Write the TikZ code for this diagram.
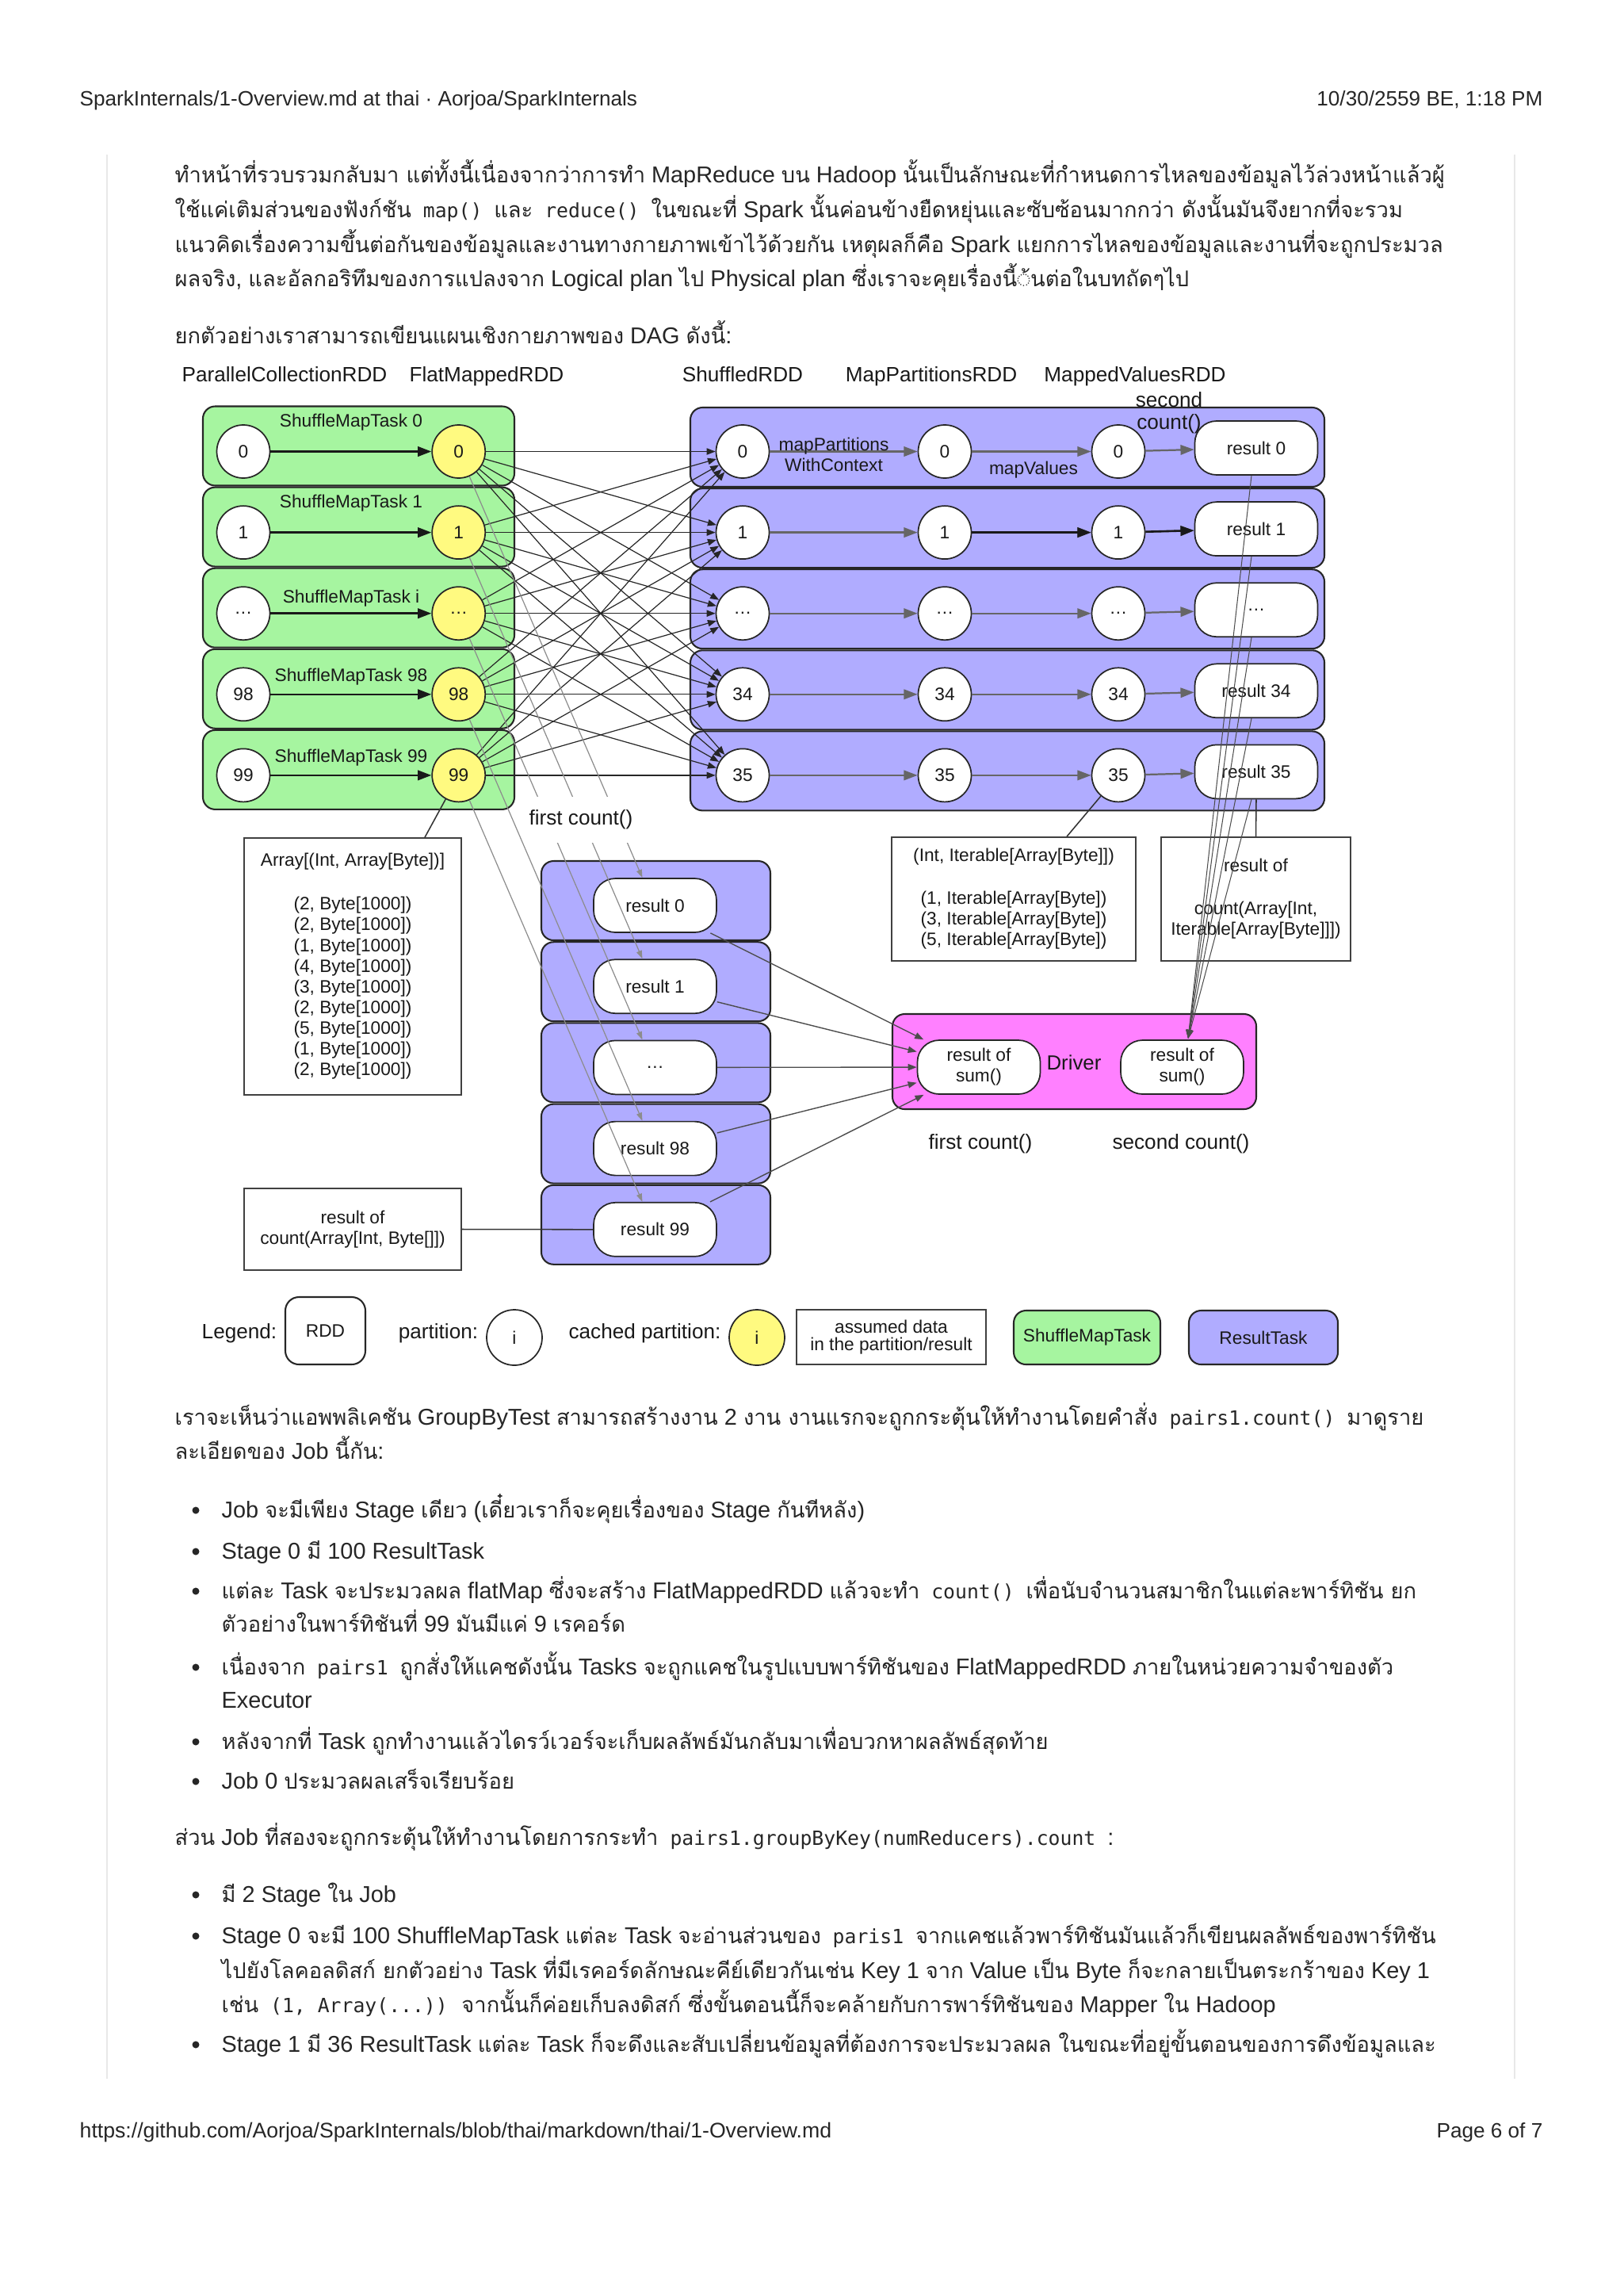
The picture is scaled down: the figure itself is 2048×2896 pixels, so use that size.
\documentclass[tikz,border=0pt]{standalone}
\usepackage{fontspec}
\setmainfont{Liberation Sans}
\setmonofont{DejaVu Sans Mono}
\newfontfamily\thaifont[Script=Thai, Scale=0.945]{Loma}
\usetikzlibrary{positioning, arrows.meta, calc}

\definecolor{smtgreen}{RGB}{166,245,160}
\definecolor{rtblue}{RGB}{176,172,255}
\definecolor{drvpink}{RGB}{255,128,255}
\definecolor{cacheyellow}{RGB}{255,250,128}
\definecolor{pagerule}{RGB}{232,232,232}

\newcommand{\upx}{0.29067pt}
\newcommand{\dgfont}{\fontsize{6.6}{7.6}\selectfont}
\newcommand{\lblfont}{\fontsize{7.6}{8.2}\selectfont}
\newcommand{\bodyfont}{\fontsize{8.4}{10}\selectfont}
\newcommand{\hdfont}{\fontsize{7.6}{9}\selectfont}
\newcommand{\thai}[1]{{\thaifont #1}}
\newcommand{\code}[1]{\hspace{2pt}{\ttfamily\fontsize{7.2}{9}\selectfont #1}\hspace{2pt}}

\begin{document}
\begin{tikzpicture}[x=\upx, y=-\upx,
  every node/.style={font=\dgfont, text=black!90},
  part/.style={draw=black!85, line width=0.5pt, circle, fill=white, minimum size=67*\upx, inner sep=0pt},
  cached/.style={part, fill=cacheyellow},
  result/.style={draw=black!85, line width=0.5pt, fill=white, rounded corners=8pt, minimum width=155*\upx, minimum height=68*\upx, align=center, inner sep=1pt},
  smtbox/.style={draw=black!85, line width=0.6pt, fill=smtgreen, rounded corners=4.5pt, minimum width=393*\upx, minimum height=100*\upx},
  rtbox/.style={draw=black!85, line width=0.6pt, fill=rtblue, rounded corners=4.5pt, minimum height=100*\upx},
  drvbox/.style={draw=black!85, line width=0.6pt, fill=drvpink, rounded corners=4.5pt, minimum width=459*\upx, minimum height=120*\upx},
  databox/.style={draw=black!75, line width=0.5pt, fill=white, align=center, inner sep=0pt},
  lbl/.style={font=\lblfont, align=center},
  coltitle/.style={font=\lblfont, anchor=base},
  body/.style={font=\bodyfont, anchor=base west, inner sep=0pt, text=black!85},
  hdr/.style={font=\hdfont, inner sep=0pt, text=black!85},
  bullet/.style={circle, fill=black!85, inner sep=0pt, minimum size=9*\upx},
  arrow/.style={-{Triangle[length=5pt,width=3.6pt]}, line width=0.75pt, black!90},
  grayarrow/.style={-{Triangle[length=5pt,width=3.6pt]}, line width=0.65pt, black!60},
  shuffle/.style={-{Triangle[length=3.2pt,width=2.4pt]}, line width=0.35pt, black!85},
  firstcnt/.style={-{Triangle[length=3pt,width=2pt]}, line width=0.35pt, black!45},
  sumarrow/.style={-{Triangle[length=3.2pt,width=2.4pt]}, line width=0.4pt, black!70},
  plain/.style={line width=0.45pt, black!80},
]
  \useasboundingbox (0,0) rectangle (2048,2896);
  \fill[white] (0,0) rectangle (2048,2896);

  % page frame
  \node[hdr, anchor=base west] (hdleft) at (100,133) {SparkInternals/1-Overview.md at thai · Aorjoa/SparkInternals};
  \node[hdr, anchor=base east] (hdright) at (1947,133) {10/30/2559 BE, 1:18 PM};
  \node[hdr, anchor=base west, font=\fontsize{7.75}{9}\selectfont] (ftleft) at (100,2696) {https://github.com/Aorjoa/SparkInternals/blob/thai/markdown/thai/1-Overview.md};
  \node[hdr, anchor=base east] (ftright) at (1947,2696) {Page 6 of 7};
  \draw[pagerule, line width=0.6pt] (135,195) -- (135,2622);
  \draw[pagerule, line width=0.6pt] (1911,195) -- (1911,2622);

  % text above the picture
  \node[body] (p1a) at (220,230) {\thai{ทำหน้าที่รวบรวมกลับมา แต่ทั้งนี้เนื่องจากว่าการทำ} MapReduce \thai{บน} Hadoop \thai{นั้นเป็นลักษณะที่กำหนดการไหลของข้อมูลไว้ล่วงหน้าแล้วผู้}};
  \node[body] (p1b) at (220,274) {\thai{ใช้แค่เติมส่วนของฟังก์ชัน} \code{map()} \thai{และ} \code{reduce()} \thai{ในขณะที่} Spark \thai{นั้นค่อนข้างยืดหยุ่นและซับซ้อนมากกว่า ดังนั้นมันจึงยากที่จะรวม}};
  \node[body] (p1c) at (220,318) {\thai{แนวคิดเรื่องความขึ้นต่อกันของข้อมูลและงานทางกายภาพเข้าไว้ด้วยกัน เหตุผลก็คือ} Spark \thai{แยกการไหลของข้อมูลและงานที่จะถูกประมวล}};
  \node[body] (p1d) at (220,361) {\thai{ผลจริง}, \thai{และอัลกอริทึมของการแปลงจาก} Logical plan \thai{ไป} Physical plan \thai{ซึ่งเราจะคุยเรื่องนี้◌้นต่อในบทถัดๆไป}};
  \node[body] (p2a) at (220,433) {\thai{ยกตัวอย่างเราสามารถเขียนแผนเชิงกายภาพของ} DAG \thai{ดังนี้}:};

  % column titles
  \node[coltitle] (tpc) at (359,481) {ParallelCollectionRDD};
  \node[coltitle] (tfm) at (614,481) {FlatMappedRDD};
  \node[coltitle] (tsh) at (937,481) {ShuffledRDD};
  \node[coltitle] (tmp) at (1175,481) {MapPartitionsRDD};
  \node[coltitle] (tmv) at (1432,481) {MappedValuesRDD};

  % tasks of the second job
  \foreach \r/\a/\b/\t/\o/\c in {0/0/0/0/37/{result 0}, 1/1/1/1/37/{result 1}, 2/{\ldots}/{\ldots}/i/19/{\ldots}, 3/98/34/98/22/{result 34}, 4/99/35/99/22/{result 35}} {
    \pgfmathsetmacro{\yy}{569.5+102.1*\r}
    \node[smtbox] (smt\r) at (452.5,\yy-7) {};
    \node[rtbox, minimum width=800*\upx] (rtu\r) at (1271,\yy-5.5) {};
    \node[part] (pc\r) at (307,\yy) {\a};
    \node[cached] (fm\r) at (578.7,\yy) {\a};
    \node (smtl\r) at (443,\yy-\o) {ShuffleMapTask \t};
    \node[part] (sh\r) at (937,\yy) {\b};
    \node[part] (mp\r) at (1192,\yy) {\b};
    \node[part] (mv\r) at (1411,\yy) {\b};
    \node[result] (res\r) at (1585,\yy-4.5) {\c};
    \draw[arrow] (pc\r) -- (fm\r);
    \draw[grayarrow] (sh\r) -- (mp\r);
    \draw[grayarrow] (mp\r) -- (mv\r);
    \draw[grayarrow] (mv\r) -- (res\r);
  }
  \draw[arrow] (mp1) -- (mv1);
  \draw[arrow] (mv1) -- (res1);

  \node[align=center] (mpl) at (1052,573) {mapPartitions\\WithContext};
  \node (mvl) at (1304,593) {mapValues};
  \node[lbl] (sc1) at (1475,521) {second\\count()};

  % shuffle
  \foreach \i in {0,...,4} {
    \foreach \j in {0,...,4} {
      \draw[shuffle] (fm\i) -- (sh\j);
    }
  }

  % tasks of the first job
  \foreach \k/\c in {0/{result 0}, 1/{result 1}, 2/{\ldots}, 3/{result 98}, 4/{result 99}} {
    \pgfmathsetmacro{\yy}{1142+102.2*\k}
    \node[rtbox, minimum width=289*\upx] (rtl\k) at (827.5,\yy-6) {};
    \node[result] (fres\k) at (826.5,\yy) {\c};
  }
  \foreach \i in {0,...,4} {
    \draw[firstcnt] (fm\i) -- ([xshift=-16*\upx]fres\i.north);
  }
  \node[lbl, fill=white, inner xsep=2pt, inner ysep=5pt] (fc1) at (733,1034) {first count()};

  % assumed data
  \node[databox, minimum width=274*\upx, minimum height=324*\upx] (arr1) at (445,1219) {Array[(Int, Array[Byte])]\\[8.4pt](2, Byte[1000])\\(2, Byte[1000])\\(1, Byte[1000])\\(4, Byte[1000])\\(3, Byte[1000])\\(2, Byte[1000])\\(5, Byte[1000])\\(1, Byte[1000])\\(2, Byte[1000])};
  \node[databox, minimum width=274*\upx, minimum height=103*\upx] (cnt1) at (445,1550.5) {result of\\count(Array[Int, Byte[]])};
  \node[databox, minimum width=308*\upx, minimum height=156*\upx] (arr2) at (1279,1134) {(Int, Iterable[Array[Byte]])\\[8pt](1, Iterable[Array[Byte])\\(3, Iterable[Array[Byte])\\(5, Iterable[Array[Byte])};
  \node[databox, minimum width=239*\upx, minimum height=156*\upx] (cnt2) at (1584.5,1134) {result of\\[8pt]count(Array[Int,\\Iterable[Array[Byte]]])};
  \draw[plain] (fm4) -- ([xshift=91*\upx]arr1.north);
  \draw[plain] (cnt1.east) -- (fres4.west);
  \draw[plain] (mv4) -- ([xshift=67*\upx]arr2.north);
  \draw[plain] (res4.south) -- (cnt2.north);

  % driver
  \node[drvbox] (drv) at (1355.5,1339) {};
  \node[result] (dsum1) at (1235,1346) {result of\\sum()};
  \node[result] (dsum2) at (1491.5,1346) {result of\\sum()};
  \node[font=\fontsize{7.5}{9}\selectfont] (drvl) at (1355,1340) {Driver};
  \coordinate (dtip) at (1499,1310);
  \foreach \k in {0,...,4} {
    \draw[sumarrow] (fres\k) -- (dsum1);
  }
  \foreach \r in {0,...,4} {
    \draw[sumarrow, line width=0.3pt] ([xshift=-6*\upx]res\r.south) -- (dtip);
  }
  \node[lbl] (fc2) at (1237,1443) {first count()};
  \node[lbl] (sc2) at (1490,1443) {second count()};

  % legend
  \node[lbl] (lg) at (302,1682) {Legend:};
  \node[draw=black!85, line width=0.6pt, fill=white, rounded corners=5pt, minimum width=101*\upx, minimum height=85*\upx] (lgrdd) at (410.5,1678.5) {RDD};
  \node[lbl] (lgp) at (553,1682) {partition:};
  \node[part, minimum size=70*\upx] (lgpc) at (649,1687) {i};
  \node[lbl] (lgc) at (813.5,1682) {cached partition:};
  \node[cached, minimum size=70*\upx] (lgcc) at (955,1687) {i};
  \node[databox, minimum width=239*\upx, minimum height=69*\upx] (lgd) at (1124.5,1686.5) {assumed data\\[-1pt]in the partition/result};
  \node[smtbox, minimum width=185*\upx, minimum height=68*\upx] (lgs) at (1371.5,1687) {ShuffleMapTask};
  \node[rtbox, minimum width=188*\upx, minimum height=68*\upx] (lgr) at (1594,1687) {ResultTask};

  % text below the picture
  \node[body] (p3a) at (220,1797) {\thai{เราจะเห็นว่าแอพพลิเคชัน} GroupByTest \thai{สามารถสร้างงาน} 2 \thai{งาน งานแรกจะถูกกระตุ้นให้ทำงานโดยคำสั่ง} \code{pairs1.count()} \thai{มาดูราย}};
  \node[body] (p3b) at (220,1840) {\thai{ละเอียดของ} Job \thai{นี้กัน}:};

  \node[bullet] (bu1) at (247,1905) {};
  \node[body] (b1) at (279,1914) {Job \thai{จะมีเพียง} Stage \thai{เดียว} (\thai{เดี๋ยวเราก็จะคุยเรื่องของ} Stage \thai{กันทีหลัง})};
  \node[bullet] (bu2) at (247,1957) {};
  \node[body] (b2) at (279,1966) {Stage 0 \thai{มี} 100 ResultTask};
  \node[bullet] (bu3) at (247,2007) {};
  \node[body] (b3a) at (279,2016) {\thai{แต่ละ} Task \thai{จะประมวลผล} flatMap \thai{ซึ่งจะสร้าง} FlatMappedRDD \thai{แล้วจะทำ} \code{count()} \thai{เพื่อนับจำนวนสมาชิกในแต่ละพาร์ทิชัน ยก}};
  \node[body] (b3b) at (279,2058) {\thai{ตัวอย่างในพาร์ทิชันที่} 99 \thai{มันมีแค่} 9 \thai{เรคอร์ด}};
  \node[bullet] (bu4) at (247,2103) {};
  \node[body] (b4a) at (279,2112) {\thai{เนื่องจาก} \code{pairs1} \thai{ถูกสั่งให้แคชดังนั้น} Tasks \thai{จะถูกแคชในรูปแบบพาร์ทิชันของ} FlatMappedRDD \thai{ภายในหน่วยความจำของตัว}};
  \node[body] (b4b) at (279,2154) {Executor};
  \node[bullet] (bu5) at (247,2197) {};
  \node[body] (b5) at (279,2206) {\thai{หลังจากที่} Task \thai{ถูกทำงานแล้วไดรว์เวอร์จะเก็บผลลัพธ์มันกลับมาเพื่อบวกหาผลลัพธ์สุดท้าย}};
  \node[bullet] (bu6) at (247,2247) {};
  \node[body] (b6) at (279,2256) {Job 0 \thai{ประมวลผลเสร็จเรียบร้อย}};

  \node[body] (p4) at (220,2327) {\thai{ส่วน} Job \thai{ที่สองจะถูกกระตุ้นให้ทำงานโดยการกระทำ} \code{pairs1.groupByKey(numReducers).count} :};

  \node[bullet] (cu1) at (247,2390) {};
  \node[body] (c1) at (279,2399) {\thai{มี} 2 Stage \thai{ใน} Job};
  \node[bullet] (cu2) at (247,2442) {};
  \node[body] (c2a) at (279,2451) {Stage 0 \thai{จะมี} 100 ShuffleMapTask \thai{แต่ละ} Task \thai{จะอ่านส่วนของ} \code{paris1} \thai{จากแคชแล้วพาร์ทิชันมันแล้วก็เขียนผลลัพธ์ของพาร์ทิชัน}};
  \node[body] (c2b) at (279,2495) {\thai{ไปยังโลคอลดิสก์ ยกตัวอย่าง} Task \thai{ที่มีเรคอร์ดลักษณะคีย์เดียวกันเช่น} Key 1 \thai{จาก} Value \thai{เป็น} Byte \thai{ก็จะกลายเป็นตระกร้าของ} Key 1};
  \node[body] (c2c) at (279,2538) {\thai{เช่น} \code{(1, Array(...))} \thai{จากนั้นก็ค่อยเก็บลงดิสก์ ซึ่งขั้นตอนนี้ก็จะคล้ายกับการพาร์ทิชันของ} Mapper \thai{ใน} Hadoop};
  \node[bullet] (cu3) at (247,2579) {};
  \node[body] (c3) at (279,2588) {Stage 1 \thai{มี} 36 ResultTask \thai{แต่ละ} Task \thai{ก็จะดึงและสับเปลี่ยนข้อมูลที่ต้องการจะประมวลผล ในขณะที่อยู่ขั้นตอนของการดึงข้อมูลและ}};
\end{tikzpicture}
\end{document}
